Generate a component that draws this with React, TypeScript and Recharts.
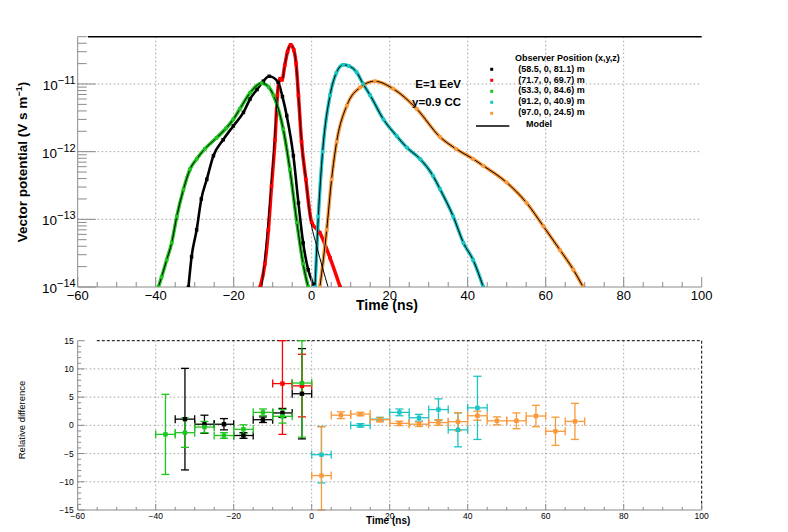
import React from 'react';
import {
  ComposedChart,
  Line,
  Scatter,
  XAxis,
  YAxis,
  CartesianGrid,
  ErrorBar,
  ReferenceLine,
} from 'recharts';

const FONT = '"Liberation Sans", Arial, Helvetica, sans-serif';
const AXIS_GREY = '#8a8a8a';
const GRID_GREY = '#a0a0a0';

const COLOR_BLACK = '#000000';
const COLOR_RED = '#ff0000';
const COLOR_GREEN = '#1fc41f';
const COLOR_CYAN = '#1cc4c4';
const COLOR_ORANGE = '#f8993b';

// ---------- Top panel: time (ns) vs vector potential (V s m^-1) ----------
const blackTime = [-31.6, -30.8, -29.5, -28.3, -26.9, -25.2, -22.7, -20.1, -17.5, -15.8, -14.0, -12.4, -10.9, -8.6, -7.5, -6.4, -4.7, -3.4, -2.2, -0.9, 0.4];
const blackVal = [1e-14, 2.8e-14, 7e-14, 2e-13, 3.9e-13, 8.7e-13, 1.5e-12, 2.4e-12, 3.8e-12, 6e-12, 8.3e-12, 1.1e-11, 1.3e-11, 1.06e-11, 6.5e-12, 3.4e-12, 8.7e-13, 1.75e-13, 4.5e-14, 1.8e-14, 1.1e-14];

const redTime = [-13.2, -12.0, -11.1, -10.3, -9.4, -8.8, -8.1, -7.6, -6.9, -6.2, -5.4, -4.6, -4.0, -3.4, -2.6, -1.5, 0.0, 2.1, 4.7, 7.3];
const redVal = [1e-14, 2.2e-14, 7e-14, 3.1e-13, 1.5e-12, 6.8e-12, 1.2e-11, 1.15e-11, 1.9e-11, 3e-11, 3.8e-11, 3.2e-11, 2e-11, 6.8e-12, 1.4e-12, 3.9e-13, 9e-14, 6.3e-14, 2.7e-14, 1e-14];
const redModelTime = [-12.8, -11.5, -10.3, -9.3, -8.6, -8.1, -7.6, -6.9, -6.2, -5.4, -4.6, -4.0, -3.4, -2.6, -1.5, -0.3, 1.3, 2.8, 4.2];
const redModelVal = [1e-14, 6e-14, 4e-13, 2.5e-12, 9e-12, 1.2e-11, 1.15e-11, 1.9e-11, 3e-11, 3.8e-11, 3.2e-11, 2e-11, 6.8e-12, 1.4e-12, 3.9e-13, 1e-13, 4e-14, 1.9e-14, 1e-14];

const greenTime = [-39.3, -38.5, -37.2, -35.9, -34.6, -32.9, -31.2, -29.5, -27.4, -24.4, -22.0, -20.1, -18.4, -15.8, -12.8, -11.0, -9.8, -7.3, -5.6, -3.8, -2.2, -0.9];
const greenVal = [1e-14, 1.4e-14, 2.5e-14, 4.5e-14, 1.1e-13, 2.75e-13, 5.5e-13, 7.8e-13, 1.1e-12, 1.6e-12, 2.2e-12, 3e-12, 4.3e-12, 7.4e-12, 1.03e-11, 9e-12, 6.8e-12, 2.15e-12, 5.5e-13, 9e-14, 2.2e-14, 1e-14];

const cyanTime = [0.85, 1.7, 2.8, 4.7, 6.3, 8.1, 9.5, 11.5, 13.2, 15.0, 18.4, 21.8, 24.4, 27.8, 31.1, 32.9, 36.3, 38.9, 41.4, 44.0];
const cyanVal = [1e-14, 1.1e-13, 1e-12, 6.8e-12, 1.45e-11, 1.92e-11, 1.85e-11, 1.5e-11, 1e-11, 6.8e-12, 3e-12, 1.7e-12, 1.15e-12, 7.8e-13, 4.4e-13, 2.8e-13, 1.1e-13, 4.5e-14, 2.5e-14, 1e-14];

const orangeTime = [2.1, 3.85, 5.1, 6.4, 9.0, 12.4, 16.2, 20.9, 26.9, 32.9, 37.0, 41.4, 44.0, 50.0, 55.1, 59.4, 63.7, 67.1, 69.6];
const orangeVal = [1e-14, 7e-14, 3.9e-13, 1.4e-12, 4.8e-12, 8.9e-12, 1.1e-11, 8.5e-12, 4.3e-12, 1.65e-12, 1.1e-12, 7.8e-13, 6.2e-13, 3.5e-13, 1.75e-13, 7.9e-14, 3.5e-14, 1.8e-14, 1e-14];

// ---------- Bottom panel: relative difference per 5 ns bin ----------
const BIN_HALF_WIDTH = 2.5;

const resBlackTime = [-32.5, -27.5, -22.5, -17.5, -12.5, -7.5, -2.5];
const resBlackVal = [1.1, 0.2, 0.2, -1.8, 1.0, 2.2, 5.6];
const resBlackLow = [9.0, 1.6, 1.0, 0.5, 0.5, 0.8, 8.0];
const resBlackHigh = [9.0, 1.6, 1.0, 0.5, 0.5, 0.8, 8.0];

const resRedTime = [-7.5, -2.5];
const resRedVal = [7.4, 7.0];
const resRedLow = [9.0, 5.5];
const resRedHigh = [7.6, 5.6];

const resGreenTime = [-37.5, -32.5, -27.5, -22.5, -17.5, -12.5, -7.5, -2.5];
const resGreenVal = [-1.6, -1.3, -0.3, -1.8, -0.7, 2.3, 1.6, 7.5];
const resGreenLow = [7.1, 2.6, 1.0, 0.5, 0.8, 0.6, 1.2, 9.6];
const resGreenHigh = [7.1, 2.6, 1.0, 0.5, 0.8, 0.6, 1.2, 7.5];

const resCyanTime = [2.5, 12.5, 17.5, 22.5, 27.5, 32.5, 37.5, 42.5];
const resCyanVal = [-5.2, 0.0, 1.1, 2.3, 1.35, 2.8, -0.8, 3.1];
const resCyanLow = [5.0, 0.3, 0.3, 0.6, 0.6, 1.9, 3.0, 5.6];
const resCyanHigh = [5.0, 0.3, 0.3, 0.6, 0.6, 1.9, 3.0, 5.6];

const resOrangeTime = [2.5, 7.5, 12.5, 17.5, 22.5, 27.5, 32.5, 37.5, 42.5, 47.5, 52.5, 57.5, 62.5, 67.5];
const resOrangeVal = [-8.9, 1.8, 2.0, 1.0, 0.35, 0.2, 0.5, 0.65, 1.7, 0.8, 0.8, 1.65, -1.05, 0.7];
const resOrangeLow = [6.1, 0.6, 0.3, 0.4, 0.4, 0.4, 0.5, 1.6, 0.8, 0.7, 1.4, 1.9, 2.5, 3.2];
const resOrangeHigh = [8.65, 0.6, 0.3, 0.4, 0.4, 0.4, 0.5, 1.6, 0.8, 0.7, 1.4, 1.9, 2.5, 3.2];

// ---------- Axis ticks ----------
const xMajorTicks = [-60, -40, -20, 0, 20, 40, 60, 80, 100];
const xGridTicks = [-40, -20, 0, 20, 40, 60, 80];
const xAllTicks: number[] = [];
for (let t = -60; t <= 100; t += 5) xAllTicks.push(t);

const logDecades = [-14, -13, -12, -11];
const logGrid = [1e-13, 1e-12, 1e-11];
const logTicks: number[] = [];
logDecades.forEach((d) => {
  for (let m = 1; m <= 9; m++) {
    const v = m * Math.pow(10, d);
    if (v <= 5.0001e-11) logTicks.push(v);
  }
});

const resMajorTicks = [-15, -10, -5, 0, 5, 10, 15];
const resGridTicks = [-10, -5, 0, 5, 10];
const resAllTicks: number[] = [];
for (let v = -15; v <= 15; v += 1) resAllTicks.push(v);

const legendLabels = ['(58.5, 0, 81.1) m', '(71.7, 0, 69.7) m', '(53.3, 0, 84.6) m', '(91.2, 0, 40.9) m', '(97.0, 0, 24.5) m'];
const legendColors = [COLOR_BLACK, COLOR_RED, COLOR_GREEN, COLOR_CYAN, COLOR_ORANGE];

// ---------- Helpers ----------
const toRows = (ts: number[], vs: number[]) => ts.map((t, i) => ({ t, v: vs[i] }));
const toResRows = (ts: number[], vs: number[], lo: number[], hi: number[]) =>
  ts.map((t, i) => ({ t, v: vs[i], ex: BIN_HALF_WIDTH, ey: [lo[i], hi[i]] }));

const fmt = (v: number) => (v < 0 ? '\u2212' + Math.abs(v) : String(v));

const makeXTick = (majorLen: number, minorLen: number, fontSize: number, labelDy: number) => (props: any) => {
  const { x, y, payload } = props;
  const v = payload.value;
  const isMajor = xMajorTicks.includes(v);
  return (
    <g>
      <line x1={x} x2={x} y1={y} y2={y - (isMajor ? majorLen : minorLen)} stroke={AXIS_GREY} strokeWidth={1} />
      {isMajor && (
        <text x={x} y={y + labelDy} textAnchor="middle" fontSize={fontSize} fontFamily={FONT} fill="#000">
          {fmt(v)}
        </text>
      )}
    </g>
  );
};

const LogYTick = (props: any) => {
  const { x, y, payload } = props;
  const v = payload.value as number;
  const e = Math.floor(Math.log10(v) + 1e-9);
  const m = v / Math.pow(10, e);
  const isMajor = Math.abs(m - 1) < 1e-6;
  return (
    <g>
      <line x1={x} x2={x + (isMajor ? 18 : 9)} y1={y} y2={y} stroke={AXIS_GREY} strokeWidth={1} />
      {isMajor && (
        <text x={x - 2} y={y + 6} textAnchor="end" fontFamily={FONT} fill="#000">
          <tspan fontSize={13.5}>10</tspan>
          <tspan fontSize={11} dy={-6}>{'\u2212' + Math.abs(e)}</tspan>
        </text>
      )}
    </g>
  );
};

const ResYTick = (props: any) => {
  const { x, y, payload } = props;
  const v = payload.value as number;
  const isMajor = resMajorTicks.includes(v);
  return (
    <g>
      <line x1={x} x2={x + (isMajor ? 7 : 3.5)} y1={y} y2={y} stroke={AXIS_GREY} strokeWidth={1} />
      {isMajor && (
        <text x={x - 4} y={y + 3} textAnchor="end" fontSize={8.5} fontFamily={FONT} fill="#000">
          {fmt(v)}
        </text>
      )}
    </g>
  );
};

const squareDot = (color: string, size: number) => (props: any) => {
  const { cx, cy, index } = props;
  if (cx == null || cy == null) return <g key={index} />;
  return <rect key={index} x={cx - size / 2} y={cy - size / 2} width={size} height={size} fill={color} />;
};

const topSeries = [
  { name: 'black', rows: toRows(blackTime, blackVal), model: toRows(blackTime, blackVal), color: COLOR_BLACK, width: 2.6 },
  { name: 'red', rows: toRows(redTime, redVal), model: toRows(redModelTime, redModelVal), color: COLOR_RED, width: 3.5 },
  { name: 'green', rows: toRows(greenTime, greenVal), model: toRows(greenTime, greenVal), color: COLOR_GREEN, width: 3.5 },
  { name: 'cyan', rows: toRows(cyanTime, cyanVal), model: toRows(cyanTime, cyanVal), color: COLOR_CYAN, width: 3.5 },
  { name: 'orange', rows: toRows(orangeTime, orangeVal), model: toRows(orangeTime, orangeVal), color: COLOR_ORANGE, width: 3.5 },
];

const resSeries = [
  { name: 'black', rows: toResRows(resBlackTime, resBlackVal, resBlackLow, resBlackHigh), color: COLOR_BLACK },
  { name: 'red', rows: toResRows(resRedTime, resRedVal, resRedLow, resRedHigh), color: COLOR_RED },
  { name: 'green', rows: toResRows(resGreenTime, resGreenVal, resGreenLow, resGreenHigh), color: COLOR_GREEN },
  { name: 'cyan', rows: toResRows(resCyanTime, resCyanVal, resCyanLow, resCyanHigh), color: COLOR_CYAN },
  { name: 'orange', rows: toResRows(resOrangeTime, resOrangeVal, resOrangeLow, resOrangeHigh), color: COLOR_ORANGE },
];

export default function App() {
  return (
    <div style={{ position: 'absolute', left: 0, top: 0, width: 788, height: 532, background: '#fff', fontFamily: FONT }}>
      <div style={{ position: 'absolute', left: 0, top: 0 }}>
        <ComposedChart width={788} height={320} margin={{ top: 36.7, right: 86.3, bottom: 3, left: 17.7 }}>
          <CartesianGrid
            stroke={GRID_GREY}
            strokeWidth={1}
            strokeDasharray="1.5 2.5"
            horizontalValues={logGrid}
            verticalValues={xGridTicks}
          />
          <XAxis
            type="number"
            dataKey="t"
            domain={[-60, 100]}
            allowDataOverflow
            ticks={xAllTicks}
            interval={0}
            height={30}
            tickSize={0}
            tickMargin={0}
            tickLine={false}
            axisLine={{ stroke: AXIS_GREY }}
            tick={makeXTick(10, 5, 13, 13)}
          />
          <YAxis
            type="number"
            scale="log"
            dataKey="v"
            domain={[1e-14, 5e-11]}
            allowDataOverflow
            ticks={logTicks}
            interval={0}
            width={60}
            tickSize={0}
            tickMargin={0}
            tickLine={false}
            axisLine={{ stroke: AXIS_GREY }}
            tick={LogYTick}
          />
          <ReferenceLine
            segment={[{ x: -57.4, y: 5e-11 }, { x: 100, y: 5e-11 }]}
            stroke="#000"
            strokeWidth={1.5}
          />
          {topSeries.map((s) => (
            <Line
              key={'data-' + s.name}
              data={s.rows}
              dataKey="v"
              type="monotone"
              stroke={s.color}
              strokeWidth={s.width}
              dot={squareDot(s.color, 3.5)}
              isAnimationActive={false}
            />
          ))}
          {topSeries.map((s) => (
            <Line
              key={'model-' + s.name}
              data={s.model}
              dataKey="v"
              type="monotone"
              stroke="#000"
              strokeWidth={1}
              dot={false}
              isAnimationActive={false}
            />
          ))}
        </ComposedChart>
      </div>

      <div style={{ position: 'absolute', left: 0, top: 320 }}>
        <ComposedChart width={788} height={212} margin={{ top: 20.7, right: 86.3, bottom: 2, left: 17.7 }}>
          <CartesianGrid
            stroke={GRID_GREY}
            strokeWidth={1}
            strokeDasharray="1.5 2.5"
            horizontalValues={resGridTicks}
            verticalValues={xGridTicks}
          />
          <XAxis
            type="number"
            dataKey="t"
            domain={[-60, 100]}
            allowDataOverflow
            ticks={xAllTicks}
            interval={0}
            height={20}
            tickSize={0}
            tickMargin={0}
            tickLine={false}
            axisLine={{ stroke: AXIS_GREY }}
            tick={makeXTick(6, 3, 8.5, 8.5)}
          />
          <YAxis
            type="number"
            dataKey="v"
            domain={[-15, 15]}
            allowDataOverflow
            ticks={resAllTicks}
            interval={0}
            width={60}
            tickSize={0}
            tickMargin={0}
            tickLine={false}
            axisLine={{ stroke: AXIS_GREY }}
            tick={ResYTick}
          />
          <ReferenceLine
            segment={[{ x: -55.1, y: 15 }, { x: 100, y: 15 }]}
            stroke="#000"
            strokeDasharray="3 2"
            strokeWidth={1}
          />
          <ReferenceLine
            segment={[{ x: 100, y: 15 }, { x: 100, y: -15 }]}
            stroke="#000"
            strokeDasharray="3 2"
            strokeWidth={1}
          />
          {resSeries.map((s) => (
            <Scatter
              key={'res-' + s.name}
              data={s.rows}
              dataKey="v"
              fill={s.color}
              isAnimationActive={false}
              shape={(p: any) => (
                <rect x={p.cx - 2.2} y={p.cy - 2.2} width={4.4} height={4.4} fill={s.color} />
              )}
            >
              <ErrorBar dataKey="ex" direction="x" width={4} stroke={s.color} strokeWidth={1.3} />
              <ErrorBar dataKey="ey" direction="y" width={4} stroke={s.color} strokeWidth={1.3} />
            </Scatter>
          ))}
        </ComposedChart>
      </div>

      <svg
        width={788}
        height={532}
        style={{ position: 'absolute', left: 0, top: 0, pointerEvents: 'none' }}
        fontFamily={FONT}
      >
        <text transform="translate(27,162) rotate(-90)" textAnchor="middle" fontSize={13.5} fontWeight="bold" fill="#000">
          Vector potential (V s m<tspan fontSize={9} dy={-5}>{'\u22121'}</tspan>
          <tspan dy={5}>)</tspan>
        </text>
        <text x={356} y={310} fontSize={14} fontWeight="bold" fill="#000">Time (ns)</text>

        <text x={461} y={87.5} textAnchor="end" fontSize={11.5} fontWeight="bold" fill="#000">E=1 EeV</text>
        <text x={461} y={105.5} textAnchor="end" fontSize={11.5} fontWeight="bold" fill="#000">y=0.9 CC</text>

        <text x={515} y={60.7} fontSize={9} fontWeight="bold" fill="#000">Observer Position (x,y,z)</text>
        {legendLabels.map((label, i) => (
          <g key={label}>
            <rect x={490.2} y={67.8 + i * 11} width={3} height={3} fill={legendColors[i]} />
            <text x={518.3} y={71.7 + i * 10.85} fontSize={9} fontWeight="bold" fill="#000">{label}</text>
          </g>
        ))}
        <line x1={476} x2={509.3} y1={126} y2={126} stroke="#000" strokeWidth={1.3} />
        <text x={526} y={127.3} fontSize={9} fontWeight="bold" fill="#000">Model</text>

        <text transform="translate(25,420) rotate(-90)" textAnchor="middle" fontSize={9.5} fill="#000">
          Relative difference
        </text>
        <text x={366} y={524} fontSize={10} fontWeight="bold" fill="#000">Time (ns)</text>
      </svg>
    </div>
  );
}
